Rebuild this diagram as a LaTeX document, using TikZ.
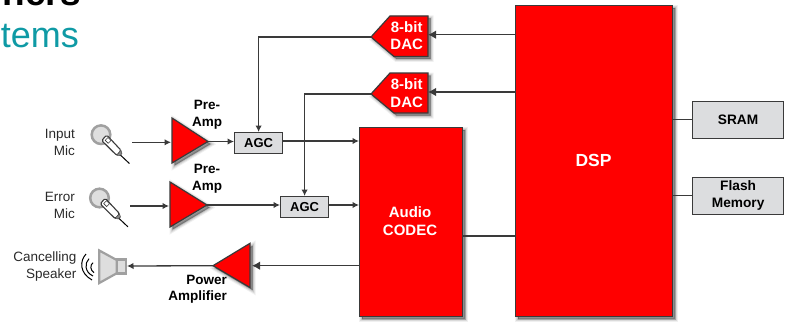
\documentclass[tikz,border=0pt]{standalone}
\usepackage{fontspec}
\setmainfont{Liberation Sans}
\usetikzlibrary{arrows.meta}
\definecolor{ink}{HTML}{3A3A3A}
\definecolor{boxgrey}{HTML}{DCDDDF}
\definecolor{textgrey}{HTML}{2A2A2A}
\definecolor{titleteal}{HTML}{0F9AA5}
\definecolor{micgrey}{HTML}{A0A0A0}
\definecolor{micfill}{HTML}{DEDEDE}
\tikzset{
  softshadow/.style={
    preaction={draw=black,fill=black,line width=6pt,opacity=.06,transform canvas={shift={(2.5pt,-2.5pt)}}},
    preaction={draw=black,fill=black,line width=4pt,opacity=.09,transform canvas={shift={(2.5pt,-2.5pt)}}},
    preaction={draw=black,fill=black,line width=2pt,opacity=.12,transform canvas={shift={(2.5pt,-2.5pt)}}},
    preaction={draw=black,fill=black,line width=.5pt,opacity=.14,transform canvas={shift={(2.5pt,-2.5pt)}}}},
  redshape/.style={draw=ink,fill=red,line width=1.2pt,line join=miter,softshadow},
  greybox/.style={draw=ink,fill=boxgrey,line width=1.2pt,inner sep=0pt,font=\fontsize{13.7}{16.5}\selectfont\bfseries,align=center,text=black},
  agcbox/.style={greybox,font=\fontsize{13}{15}\selectfont\bfseries,minimum width=48pt,minimum height=21pt,anchor=north west},
  memorybox/.style={greybox,minimum width=91pt,minimum height=37pt,anchor=north west},
  wire/.style={draw=ink,line width=1.3pt},
  arrowwire/.style={wire,-{Latex[length=6.5pt,width=6.5pt]}},
  bigarrow/.style={wire,-{Latex[length=8pt,width=8.5pt]}},
  whitelabel/.style={text=white,font=\fontsize{15}{17.5}\selectfont\bfseries,align=center,inner sep=0pt},
  blacklabel/.style={text=black,font=\fontsize{13.5}{16.5}\selectfont\bfseries,align=center,inner sep=0pt},
  sidelabel/.style={text=textgrey,font=\fontsize{13.5}{17}\selectfont,align=right,inner sep=0pt,anchor=east},
  iconline/.style={draw=micgrey,line width=2.2pt,line join=miter},
}
\newcommand{\micicon}[2]{%
  \begin{scope}[shift={(#1,#2)}]
    \draw[draw=micgrey,fill=micfill,line width=2.5pt] (0,0) circle (9.3);
    \draw[draw=black,line width=1pt,line cap=round] (18,19) -- (28.3,28.7);
    \draw[draw=ink,fill=white,line width=1.1pt,line join=round,rounded corners=1.5pt] (5.7,.3) -- (.7,5.8) -- (15.8,20.8) -- (20.2,15.8) -- cycle;
    \draw[draw=ink,fill=ink!60] (15.5,20.5) -- (20,15.6) -- (21,19) -- (19,21) -- cycle;
    \draw[draw=ink,fill=white,line width=.6pt] (7,2.8) -- (10,5.8) -- (7.2,8.6) -- (4.2,5.6) -- cycle;
  \end{scope}}
\begin{document}
\begin{tikzpicture}[x=1pt,y=-1pt]
\useasboundingbox (0,0) rectangle (789,321);
% cut-off titles
\begin{scope}
\clip (0,0) rectangle (300,321);
\node[anchor=base east,inner sep=0pt,font=\fontsize{37}{37}\selectfont\bfseries,text=black] (title) at (81,5.5) {ners};
\node[anchor=base east,inner sep=0pt,font=\fontsize{36}{36}\selectfont,text=titleteal] (subtitle) at (79,48) {tems};
\end{scope}
% big blocks
\node[redshape,minimum width=157pt,minimum height=311pt,inner sep=0pt,anchor=north west] (dsp) at (515,5) {};
\node[whitelabel,font=\fontsize{17.5}{20}\selectfont\bfseries] (dsplabel) at (593.5,160.5) {DSP};
\node[redshape,minimum width=103pt,minimum height=189pt,inner sep=0pt,anchor=north west] (codec) at (359,127) {};
\node[whitelabel] (codeclabel) at (410,221) {Audio\\CODEC};
% grey boxes
\node[memorybox] (sram) at (692,100.5) {SRAM};
\node[memorybox] (flash) at (692,176.5) {Flash\\Memory};
\node[agcbox] (agca) at (234,132) {AGC};
\node[agcbox] (agcb) at (280,196) {AGC};
% DACs
\draw[redshape] (371,37) coordinate (daca) -- (390,16) -- (428,16) -- (428,56.5) -- (394,56.5) -- cycle;
\coordinate (dacain) at (428,34.7);
\node[whitelabel] (dacalabel) at (406.7,35.5) {8-bit\\DAC};
\draw[redshape] (371,94) coordinate (dacb) -- (390,73) -- (428,73) -- (428,113) -- (394,113) -- cycle;
\coordinate (dacbin) at (428,92);
\node[whitelabel] (dacblabel) at (406.7,93) {8-bit\\DAC};
% amps
\draw[redshape] (172,118) -- (208,141.5) coordinate (ampaout) -- (172,163) -- cycle;
\coordinate (ampain) at (171,142.3);
\draw[redshape] (170,182) -- (207,205) coordinate (ampbout) -- (170,227) -- cycle;
\coordinate (ampbin) at (169,206);
\draw[redshape] (250,243.3) -- (213,265.7) coordinate (poweramp) -- (250,287.5) -- cycle;
\coordinate (powerin) at (252,265.7);
% amp labels
\node[blacklabel] (preampa) at (207,115) {Pre-\\Amp};
\node[blacklabel] (preampb) at (207,179) {Pre-\\Amp};
\node[blacklabel,align=right,anchor=east] (powerlabel) at (227,289.5) {Power\\Amplifier};
\node[sidelabel] (inputmic) at (75,142.5) {Input\\Mic};
\node[sidelabel] (errormic) at (75,205.5) {Error\\Mic};
\node[sidelabel] (cancel) at (76.7,267) {Cancelling\\Speaker};
% microphones
\micicon{101}{134.7}
\micicon{99.5}{198}
\coordinate (mica) at (132,142.3);
\coordinate (micb) at (130,206);
% speaker
\draw[iconline,fill=micfill] (99.3,250.5) -- (116.7,260) -- (116.7,273.3) -- (99.3,283) -- cycle;
\draw[iconline,fill=micfill] (116.7,259.5) rectangle (126,273.5);
\coordinate (speaker) at (127,266);
\draw[draw=black,line width=1pt] (86,254) .. controls (79.5,261) and (79.5,273) .. (92,280);
\draw[draw=black,line width=1pt] (89,258.7) .. controls (84.5,263) and (84.5,272) .. (93,276);
\draw[draw=black,line width=1pt] (93,262.7) .. controls (90,265) and (90,270) .. (94,272.7);
% connectors
\draw[arrowwire] (mica) -- (ampain);
\draw[arrowwire] (micb) -- (ampbin);
\draw[arrowwire] (ampaout) -- (agca.west |- ampaout);
\draw[arrowwire] (ampbout) -- (agcb.west |- ampbout);
\draw[arrowwire] (agca.east |- 0,141) -- (codec.west |- 0,141);
\draw[arrowwire] (agcb.east |- 0,205) -- (codec.west |- 0,205);
\draw[arrowwire] (daca) -| (agca.north);
\draw[arrowwire] (dacb) -| (agcb.north);
\draw[bigarrow] (dsp.west |- dacain) -- (dacain);
\draw[bigarrow] (dsp.west |- dacbin) -- (dacbin);
\draw[bigarrow] (codec.west |- powerin) -- (powerin);
\draw[arrowwire] (poweramp) -- (speaker);
\draw[wire] (codec.east |- 0,236) -- (dsp.west |- 0,236);
\draw[wire] (dsp.east |- sram.west) -- (sram.west);
\draw[wire] (dsp.east |- flash.west) -- (flash.west);
\end{tikzpicture}
\end{document}
